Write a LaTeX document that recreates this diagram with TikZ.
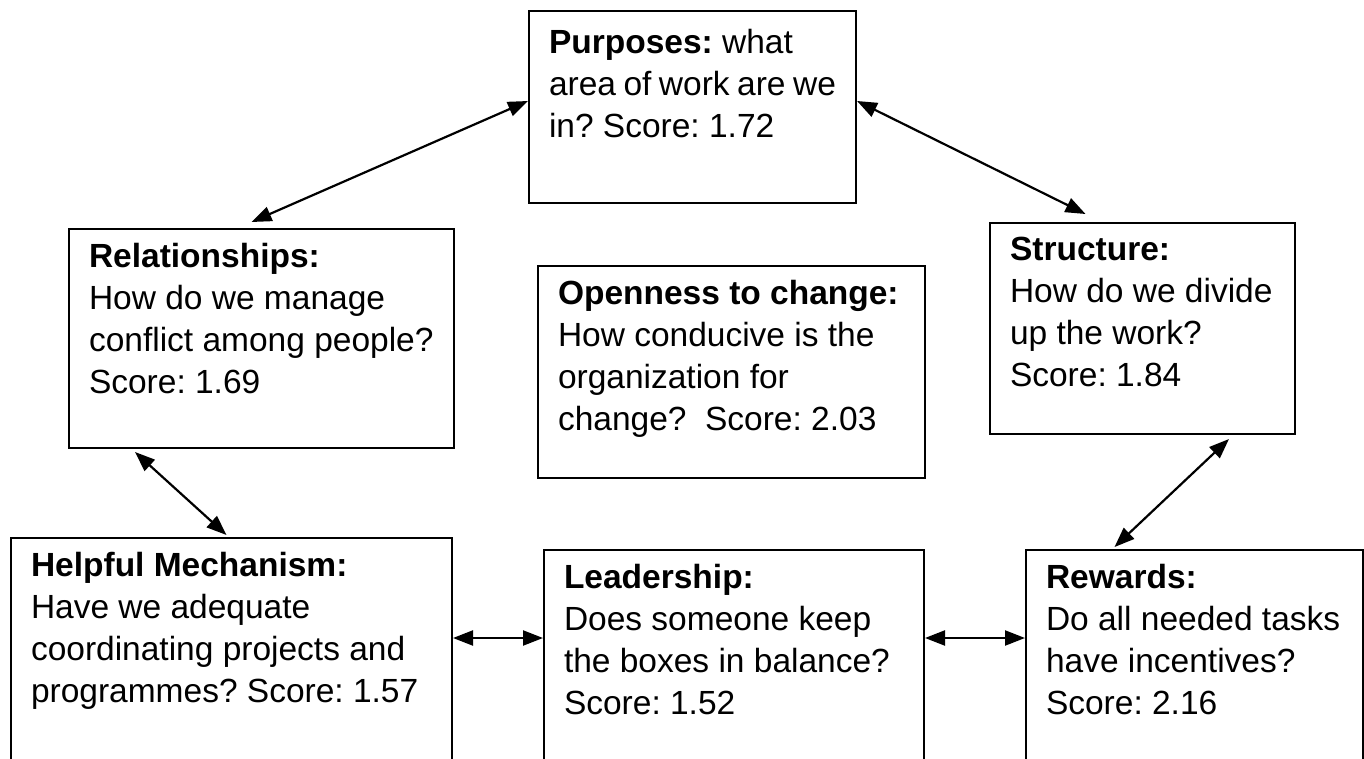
\documentclass[tikz,border=0pt]{standalone}
\usepackage{fontspec}
\setmainfont{Liberation Sans}
\usetikzlibrary{arrows.meta}
\frenchspacing

% text block of one box: width, height, lines
\newcommand{\boxlines}[3]{\parbox[t][#2][t]{#1}{#3}}

\begin{document}
\begin{tikzpicture}[x=1pt, y=-1pt,
    every node/.style={font=\fontsize{33.5}{42}\selectfont},
    box/.style={draw, line width=2pt, anchor=north west, inner xsep=20pt, inner ysep=14pt},
    link/.style={{Triangle[length=20pt,width=15pt]}-{Triangle[length=20pt,width=15pt]}, line width=2.2pt}]
    % Page frame
    \useasboundingbox (0,0) rectangle (1364,759);
    \clip (0,0) rectangle (1364,759);

    % Top and middle boxes
    \node[box, inner ysep=18pt] (purp) at (528,10) {\boxlines{287pt}{156pt}{\textbf{Purposes:} what\\area of work are we\\in? Score: 1.72}};
    \node[box] (rel) at (68,228) {\boxlines{345pt}{191pt}{\textbf{Relationships:}\\How do we manage\\conflict among people?\\Score: 1.69}};
    \node[box] (open) at (537,265) {\boxlines{347pt}{184pt}{\textbf{Openness to change:}\\How conducive is the\\organization for\\change?\ \ Score: 2.03}};
    \node[box] (struct) at (989,222) {\boxlines{265pt}{183pt}{\textbf{Structure:}\\How do we divide\\up the work?\\Score: 1.84}};

    % Bottom row, running off the page
    \node[box] (help) at (10,537) {\boxlines{401pt}{236pt}{\textbf{Helpful Mechanism:}\\Have we adequate\\coordinating projects and\\programmes? Score: 1.57}};
    \node[box] (lead) at (543,549) {\boxlines{340pt}{236pt}{\textbf{Leadership:}\\Does someone keep\\the boxes in balance?\\Score: 1.52}};
    \node[box] (rew) at (1025,549) {\boxlines{297pt}{236pt}{\textbf{Rewards:}\\Do all needed tasks\\have incentives?\\Score: 2.16}};

    % Two-way links
    \coordinate (row) at (0,638);
    \draw[link] ([yshift=6pt]purp.west) -- ([xshift=-10pt,yshift=6pt]rel.north);
    \draw[link] ([yshift=6pt]purp.east) -- ([xshift=-57pt,yshift=8pt]struct.north);
    \draw[link] ([xshift=67pt,yshift=-3pt]rel.south west) -- ([xshift=-5pt,yshift=2pt]help.north);
    \draw[link] ([xshift=-67pt,yshift=-4pt]struct.south east) -- ([xshift=-80pt,yshift=2pt]rew.north);
    \draw[link] (help.east |- row) -- (lead.west |- row);
    \draw[link] (lead.east |- row) -- (rew.west |- row);
\end{tikzpicture}
\end{document}
